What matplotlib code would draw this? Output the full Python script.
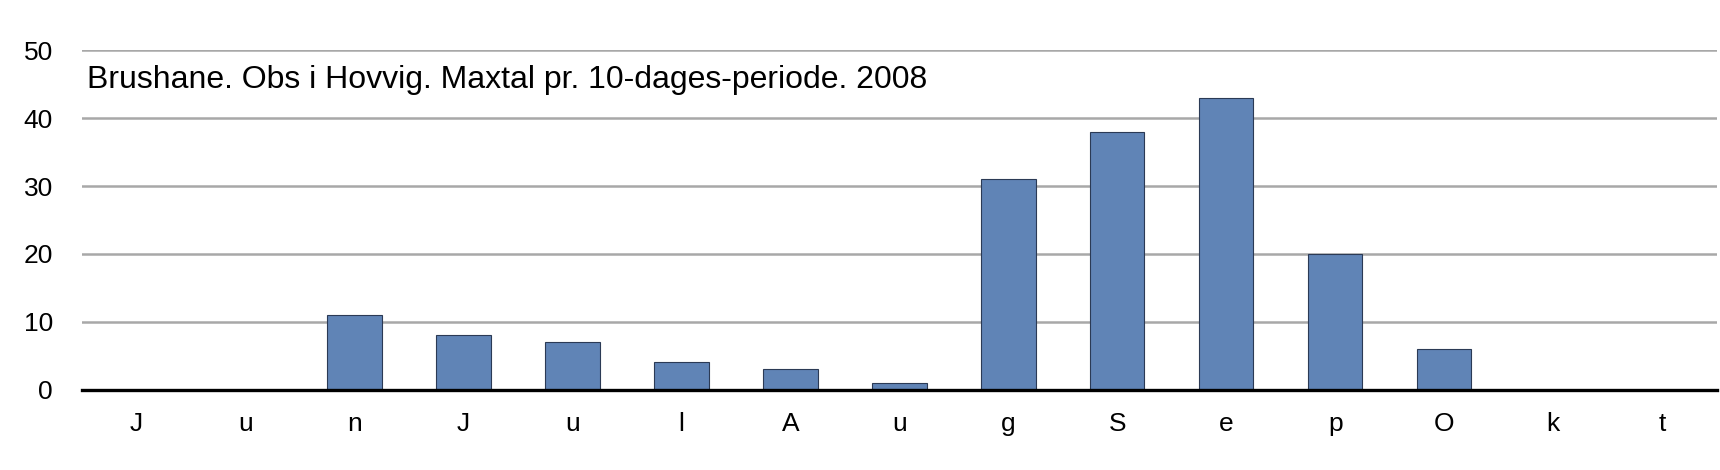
import matplotlib.pyplot as plt

labels = ['J', 'u', 'n', 'J', 'u', 'l', 'A', 'u', 'g', 'S', 'e', 'p', 'O', 'k', 't']
counts = [0, 0, 11, 8, 7, 4, 3, 1, 31, 38, 43, 20, 6, 0, 0]
title = 'Brushane. Obs i Hovvig. Maxtal pr. 10-dages-periode. 2008'

plt.rcParams['font.family'] = ['Liberation Sans', 'DejaVu Sans']

fig = plt.figure(figsize=(17.2, 4.7), dpi=100)
ax = fig.add_axes([0.0477, 0.171, 0.9503, 0.7216])

x = list(range(len(labels)))
ax.bar(x, counts, width=0.5, color='#6084b6', edgecolor='#2b3a55',
       linewidth=0.8, zorder=3)

ax.set_xlim(-0.5, len(labels) - 0.5)
ax.set_ylim(0, 50)
ax.set_yticks([0, 10, 20, 30, 40, 50])
ax.set_xticks(x)
ax.set_xticklabels(labels)
ax.yaxis.grid(True, color='#a8a8a8', linewidth=1.8, zorder=0)
ax.axhline(0, color='black', linewidth=2.4, zorder=4, clip_on=False)

for s in ax.spines.values():
    s.set_visible(False)
ax.tick_params(axis='both', length=0, labelsize=19)
ax.tick_params(axis='y', pad=21)
ax.tick_params(axis='x', pad=16)

ax.text(0.003, 0.913, title, transform=ax.transAxes, fontsize=23,
        va='center', ha='left')

fig.savefig('out.png')
